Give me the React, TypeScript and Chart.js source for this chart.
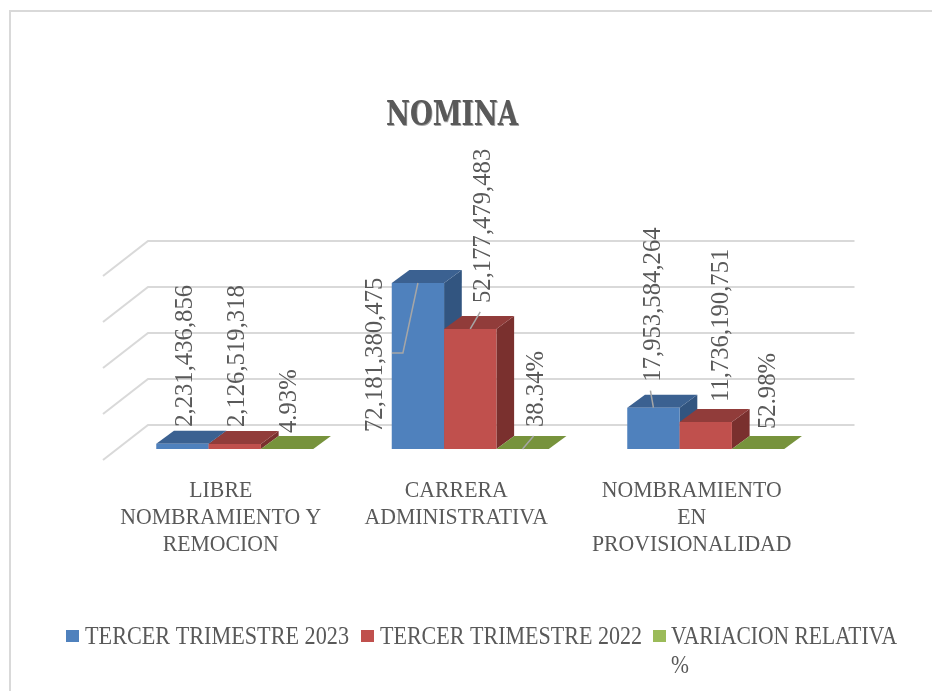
import React, { useEffect, useRef } from "react";
import { Chart, registerables } from "chart.js";

Chart.register(...registerables);

const titleText = "NOMINA";
const categories = [
  ["LIBRE", "NOMBRAMIENTO Y", "REMOCION"],
  ["CARRERA", "ADMINISTRATIVA"],
  ["NOMBRAMIENTO", "EN", "PROVISIONALIDAD"],
];
const tercer2023 = [2231436856, 72181380475, 17953584264];
const tercer2022 = [2126519318, 52177479483, 11736190751];
const variacion = [0.0493, 0.3834, 0.5298];
const seriesNames = ["TERCER TRIMESTRE 2023", "TERCER TRIMESTRE 2022", ["VARIACION RELATIVA", "%"]];

const FONT = '"Liberation Serif"';
const TEXT = "#595959";
const GRID = "#d9d9d9";
const LEADER = "#a6a6a6";
const colors = ["#4f81bd", "#c0504d", "#9bbb59"];
const topColors = ["#3b6191", "#913c3a", "#77933c"];
const sideColors = ["#325580", "#7a302e", "#657e33"];
const BAR_DX = 17.7;
const BAR_DY = -13;
const WALL_BACK_DX = 31;
const WALL_BACK_DY = -24;
const WALL_FRONT_DX = -14;
const WALL_FRONT_DY = 11;

// offsets of each label and leader from its bar's top-centre [series][category]
const labelOffsets = [
  [[9.5, -17], [-35.5, 149], [6.5, -26]],
  [[9, -17], [19.5, -26], [22.5, -20]],
  [[9, -16], [20, -22], [17, -20]],
];
const leaders: (number[][] | null)[][] = [
  [null, [[-26, 70], [-15, 70], [0, 0]], [[-3, -17], [0, 0]]],
  [null, [[10, -17], [0, 0]], null],
  [null, [[11, -13], [0, 0]], null],
];
const categoryShift = -14;
const legendLayout = [
  { box: 66, text: 85, width: 264 },
  { box: 361, text: 380, width: 262 },
  { box: 653, text: 671, width: 226 },
];

function stretchedText(ctx: CanvasRenderingContext2D, text: string, x: number, y: number, sx: number, align: CanvasTextAlign) {
  ctx.save();
  ctx.translate(x, y);
  ctx.scale(sx, 1);
  ctx.textAlign = align;
  ctx.fillText(text, 0, 0);
  ctx.restore();
}

const scene = {
  id: "scene",
  beforeDraw(chart: any) {
    const ctx: CanvasRenderingContext2D = chart.ctx;
    ctx.save();
    ctx.fillStyle = "#ffffff";
    ctx.fillRect(0, 0, chart.width, chart.height);
    ctx.strokeStyle = GRID;
    ctx.lineWidth = 2;
    ctx.beginPath();
    ctx.moveTo(10, chart.height);
    ctx.lineTo(10, 11);
    ctx.lineTo(chart.width, 11);
    ctx.stroke();
    ctx.restore();
  },
  beforeDatasetsDraw(chart: any) {
    const ctx: CanvasRenderingContext2D = chart.ctx;
    const { left, right } = chart.chartArea;
    const y = chart.scales.y;
    ctx.save();
    ctx.strokeStyle = GRID;
    ctx.lineWidth = 2;
    y.ticks.forEach((t: any) => {
      const p = y.getPixelForValue(t.value);
      ctx.beginPath();
      ctx.moveTo(left + WALL_FRONT_DX, p + WALL_FRONT_DY);
      ctx.lineTo(left + WALL_BACK_DX, p + WALL_BACK_DY);
      ctx.lineTo(right + WALL_BACK_DX, p + WALL_BACK_DY);
      ctx.stroke();
    });
    ctx.restore();

    chart.data.datasets.forEach((_: any, di: number) => {
      const meta = chart.getDatasetMeta(di);
      meta.data.forEach((el: any) => {
        const { x, y: top, base, width } = el.getProps(["x", "y", "base", "width"]);
        const l = x - width / 2;
        const r = x + width / 2;
        ctx.fillStyle = sideColors[di];
        ctx.beginPath();
        ctx.moveTo(r, top);
        ctx.lineTo(r + BAR_DX, top + BAR_DY);
        ctx.lineTo(r + BAR_DX, base + BAR_DY);
        ctx.lineTo(r, base);
        ctx.closePath();
        ctx.fill();
        ctx.fillStyle = topColors[di];
        ctx.beginPath();
        ctx.moveTo(l, top);
        ctx.lineTo(l + BAR_DX, top + BAR_DY);
        ctx.lineTo(r + BAR_DX, top + BAR_DY);
        ctx.lineTo(r, top);
        ctx.closePath();
        ctx.fill();
        el.draw(ctx);
      });
    });
  },
  beforeDatasetDraw() {
    return false;
  },
  afterDatasetsDraw(chart: any) {
    const ctx: CanvasRenderingContext2D = chart.ctx;
    ctx.save();
    ctx.fillStyle = TEXT;
    ctx.textBaseline = "alphabetic";

    // leaders and rotated data labels
    chart.data.datasets.forEach((ds: any, di: number) => {
      const meta = chart.getDatasetMeta(di);
      meta.data.forEach((el: any, ci: number) => {
        const line = leaders[di][ci];
        if (line) {
          ctx.strokeStyle = LEADER;
          ctx.lineWidth = 1.5;
          ctx.beginPath();
          line.forEach((pt, i) => {
            if (i === 0) ctx.moveTo(el.x + pt[0], el.y + pt[1]);
            else ctx.lineTo(el.x + pt[0], el.y + pt[1]);
          });
          ctx.stroke();
        }
        const v = ds.data[ci];
        const text = di === 2 ? (v * 100).toFixed(2) + "%" : v.toLocaleString("en-US");
        const [dx, dy] = labelOffsets[di][ci];
        ctx.save();
        ctx.translate(el.x + dx, el.y + dy);
        ctx.rotate(-Math.PI / 2);
        ctx.font = `24.7px ${FONT}`;
        ctx.textAlign = "left";
        ctx.fillText(text, 0, 0);
        ctx.restore();
      });
    });

    // category labels
    const xs = chart.scales.x;
    ctx.font = `22.7px ${FONT}`;
    chart.data.labels.forEach((lines: string[], i: number) => {
      const cx = xs.getPixelForValue(i) + categoryShift;
      lines.forEach((ln, k) => stretchedText(ctx, ln, cx, 496.5 + k * 27.3, 0.96, "center"));
    });

    // legend
    ctx.font = `25px ${FONT}`;
    seriesNames.forEach((name, i) => {
      const lay = legendLayout[i];
      const lines = Array.isArray(name) ? name : [name];
      ctx.fillStyle = colors[i];
      ctx.fillRect(lay.box, 630, 13, 12);
      ctx.fillStyle = TEXT;
      const sx = lay.width / ctx.measureText(lines[0]).width;
      lines.forEach((ln, k) => stretchedText(ctx, ln, lay.text, 644 + k * 28.5, sx, "left"));
    });

    // title
    ctx.font = `bold 34px "DejaVu Serif"`;
    const tw = ctx.measureText(titleText).width;
    const tsx = 132 / tw;
    ctx.fillStyle = "#a6a6a6";
    stretchedText(ctx, titleText, 452.8, 125.8, tsx, "center");
    ctx.fillStyle = TEXT;
    stretchedText(ctx, titleText, 452, 125, tsx, "center");
    ctx.restore();
  },
};

export default function App() {
  const ref = useRef<HTMLCanvasElement>(null);
  useEffect(() => {
    const chart = new Chart(ref.current!, {
      type: "bar",
      data: {
        labels: categories as any,
        datasets: [
          { label: seriesNames[0] as string, data: tercer2023, backgroundColor: colors[0] },
          { label: seriesNames[1] as string, data: tercer2022, backgroundColor: colors[1] },
          { label: (seriesNames[2] as string[]).join(" "), data: variacion, backgroundColor: colors[2] },
        ],
      },
      options: {
        animation: false,
        responsive: false,
        devicePixelRatio: 1,
        layout: { padding: { left: 117, right: 108.5, top: 265, bottom: 242 } },
        datasets: { bar: { categoryPercentage: 2 / 3, barPercentage: 1, borderWidth: 0 } },
        scales: {
          x: { display: false, type: "category" },
          y: { display: false, min: 0, max: 80000000000, ticks: { stepSize: 20000000000 } },
        },
        plugins: { legend: { display: false }, title: { display: false }, tooltip: { enabled: false } },
      },
      plugins: [scene as any],
    });
    return () => chart.destroy();
  }, []);
  return (
    <canvas
      ref={ref}
      width={932}
      height={691}
      style={{ position: "fixed", left: 0, top: 0, display: "block", width: 932, height: 691 }}
    />
  );
}
